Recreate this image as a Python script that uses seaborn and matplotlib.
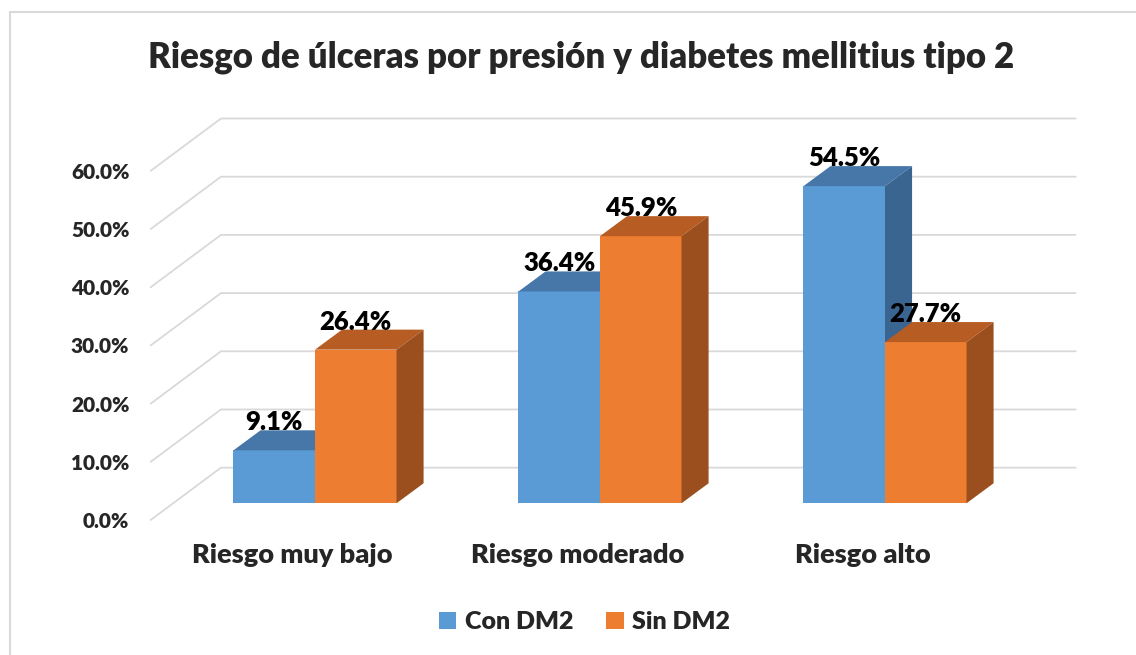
import pandas as pd
import numpy as np
import matplotlib.pyplot as plt
from matplotlib.patches import Polygon
from matplotlib.lines import Line2D
import seaborn as sns

sns.set_style("white")
plt.rcParams['font.family'] = ['Lato', 'DejaVu Sans']
PESO = "heavy"

# datos
riesgos = ["Riesgo muy bajo", "Riesgo moderado", "Riesgo alto"]
grupos = ["Con DM2", "Sin DM2"]
con_dm2 = [9.1, 36.4, 54.5]
sin_dm2 = [26.4, 45.9, 27.7]
ticks = [0, 10, 20, 30, 40, 50, 60]

df = pd.DataFrame({
    "riesgo": riesgos * 2,
    "grupo": [grupos[0]] * 3 + [grupos[1]] * 3,
    "pct": con_dm2 + sin_dm2,
})

# colores: frente, tapa, lado
frente = ["#5B9BD5", "#ED7D31"]
tapa = ["#4677A8", "#B75C22"]
lado = ["#3B6591", "#9B4F1E"]
gris = "#D9D9D9"

# profundidad del efecto 3d (en unidades de datos)
DX, DY = 0.095, 3.44      # fondo de cada barra
FX, FY = 0.0786, 2.87     # plano frontal (etiquetas)
WX, WY = 0.168, 6.12      # pared del fondo

fig = plt.figure(figsize=(11.36, 6.55), dpi=100)
ax = fig.add_axes([144 / 1136, 133.1 / 655, 940.5 / 1136, 405.6 / 655])

sns.barplot(data=df, x="riesgo", y="pct", hue="grupo", palette=frente,
            width=0.572, saturation=1, ax=ax, linewidth=0)

# lineas de cuadricula en perspectiva
x_izq, x_der = -0.5765, 2.669
for v in ticks:
    ax.plot([x_izq, x_izq + FX + WX, x_der], [v - FY, v + WY, v + WY],
            color=gris, lw=1.3, zorder=1, clip_on=False)

# caras superiores y laterales
for i, cont in enumerate(ax.containers):
    for rect in cont:
        x0, w, h = rect.get_x(), rect.get_width(), rect.get_height()
        rect.set_zorder(3 + 2 * i)
        top = Polygon([(x0, h), (x0 + w, h), (x0 + w + DX, h + DY), (x0 + DX, h + DY)],
                      closed=True, facecolor=tapa[i], edgecolor="none", zorder=3.5 + 2 * i)
        side = Polygon([(x0 + w, 0), (x0 + w + DX, DY), (x0 + w + DX, h + DY), (x0 + w, h)],
                       closed=True, facecolor=lado[i], edgecolor="none", zorder=3.5 + 2 * i)
        ax.add_patch(top)
        ax.add_patch(side)
        ax.text(x0 + w / 2, h + DY, f"{h:.1f}%", ha="center", va="baseline",
                fontsize=18.5, fontweight=PESO, color="black", zorder=20)

ax.set_xlim(-0.6, 2.7)
ax.set_ylim(-3.2, 66.5)
ax.set_yticks([v - FY for v in ticks], labels=[f"{v:.1f}%" for v in ticks])
ax.set_xticks([i - FX for i in range(len(riesgos))], labels=riesgos)
ax.tick_params(axis="y", length=0, pad=10.5, labelsize=15)
ax.tick_params(axis="x", length=0, pad=15.5, labelsize=19.5)
for lab in ax.get_xticklabels() + ax.get_yticklabels():
    lab.set_fontweight(PESO)
ax.set_xlabel("")
ax.set_ylabel("")
sns.despine(ax=ax, left=True, bottom=True)

sns.move_legend(ax, "center", bbox_to_anchor=(584.5 / 1136, 1 - 622 / 655),
                bbox_transform=fig.transFigure, ncol=2, frameon=False, title=None,
                fontsize=18, handlelength=0.7, handleheight=0.7,
                handletextpad=0.35, columnspacing=1.3)
for t in ax.get_legend().get_texts():
    t.set_fontweight(PESO)

fig.text(581 / 1136, 1 - 57 / 655, "Riesgo de úlceras por presión y diabetes mellitius tipo 2",
         ha="center", va="center", fontsize=25, fontweight=PESO)

# borde del area del grafico
fig.add_artist(Line2D([10 / 1136, 1], [1 - 12 / 655, 1 - 12 / 655], color=gris, lw=1.5))
fig.add_artist(Line2D([10 / 1136, 10 / 1136], [0, 1 - 12 / 655], color=gris, lw=1.5))

fig.savefig("out.png", dpi=100)
